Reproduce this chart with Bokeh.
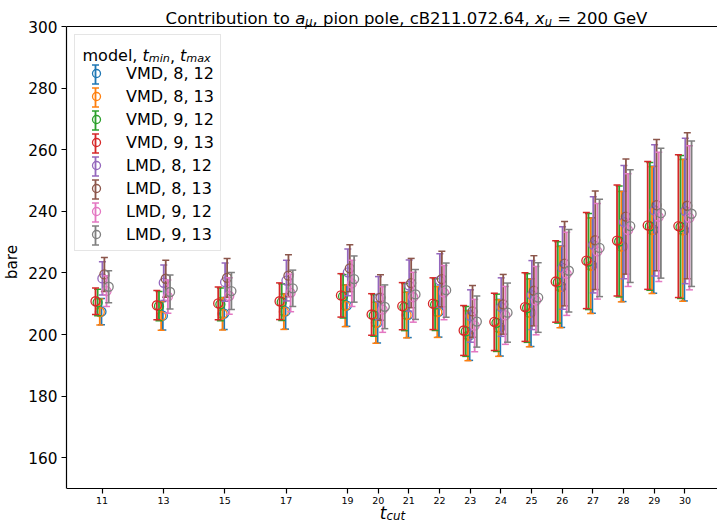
from bokeh.plotting import figure
from bokeh.models import (ColumnDataSource, Label, Legend, LegendItem, Whisker,
                          TeeHead, Span, FixedTicker, Range1d)
from bokeh.embed import file_html
from bokeh.resources import INLINE

FONT = "DejaVu Sans"

# ---------------- data ----------------
t_cut = [11, 13, 15, 17, 19, 20, 21, 22, 23, 24, 25, 26, 27, 28, 29, 30]
yticks = [160, 180, 200, 220, 240, 260, 280, 300]

labels = ["VMD, 8, 12", "VMD, 8, 13", "VMD, 9, 12", "VMD, 9, 13",
          "LMD, 8, 12", "LMD, 8, 13", "LMD, 9, 12", "LMD, 9, 13"]

vmd_8_12 = [207.4, 206.1, 206.8, 207.5, 209.4, 203.9, 206.4, 207.4, 199.7, 202.2, 207.1, 215.5, 222.4, 228.6, 234.0, 233.9]
vmd_8_12_err = [4.25, 4.65, 5.2, 5.75, 6.75, 6.65, 7.4, 8.25, 8.1, 9.2, 11.0, 13.2, 15.5, 17.9, 20.6, 23.0]
vmd_8_13 = [207.3, 206.0, 206.7, 207.4, 209.3, 203.8, 206.3, 207.3, 199.6, 202.1, 207.0, 215.4, 222.3, 228.5, 233.9, 233.8]
vmd_8_13_err = [4.25, 4.65, 5.2, 5.75, 6.75, 6.65, 7.4, 8.25, 8.1, 9.2, 11.0, 13.2, 15.5, 17.9, 20.6, 23.0]
vmd_9_12 = [210.4, 209.2, 209.8, 210.5, 212.4, 206.2, 208.9, 209.7, 201.0, 203.8, 208.6, 216.9, 223.7, 230.2, 235.1, 234.9]
vmd_9_12_err = [4.3, 4.75, 5.3, 5.95, 7.05, 6.75, 7.65, 8.4, 8.1, 9.3, 11.15, 13.2, 15.6, 18.0, 20.75, 23.2]
vmd_9_13 = [210.8, 209.5, 210.1, 210.8, 212.7, 206.5, 209.2, 210.0, 201.3, 204.1, 208.9, 217.2, 224.0, 230.5, 235.4, 235.2]
vmd_9_13_err = [4.3, 4.75, 5.3, 5.95, 7.05, 6.75, 7.65, 8.4, 8.1, 9.3, 11.15, 13.2, 15.6, 18.0, 20.75, 23.2]
lmd_8_12 = [218.2, 216.8, 217.0, 217.5, 220.2, 211.8, 215.9, 217.5, 206.0, 208.9, 212.8, 221.6, 229.1, 236.5, 240.3, 240.1]
lmd_8_12_err = [5.4, 5.8, 6.2, 6.6, 7.6, 7.0, 8.3, 8.7, 8.5, 9.5, 11.2, 13.4, 15.6, 18.4, 21.3, 23.6]
lmd_8_13 = [219.5, 218.1, 218.4, 219.1, 221.5, 212.0, 216.7, 218.0, 207.5, 209.8, 214.2, 223.0, 230.6, 238.3, 242.0, 241.8]
lmd_8_13_err = [5.5, 6.0, 6.3, 6.8, 7.6, 7.4, 8.0, 9.0, 8.4, 9.7, 11.4, 13.7, 16.0, 18.7, 21.3, 23.7]
lmd_9_12 = [214.1, 212.3, 212.5, 213.5, 216.6, 208.1, 212.1, 213.6, 202.9, 206.2, 211.0, 219.7, 227.0, 233.9, 238.2, 237.9]
lmd_9_12_err = [5.0, 5.4, 5.9, 6.1, 7.5, 7.4, 8.1, 8.8, 8.5, 9.4, 11.1, 13.5, 15.5, 18.3, 21.0, 23.4]
lmd_9_13 = [215.5, 213.8, 214.1, 215.0, 218.0, 209.0, 213.0, 214.4, 204.2, 207.1, 212.0, 220.7, 228.1, 235.2, 239.4, 239.2]
lmd_9_13_err = [5.2, 5.5, 6.0, 5.9, 7.5, 7.1, 8.1, 8.8, 8.3, 9.6, 11.3, 13.4, 15.8, 18.3, 21.1, 23.6]

values = [vmd_8_12, vmd_8_13, vmd_9_12, vmd_9_13, lmd_8_12, lmd_8_13, lmd_9_12, lmd_9_13]
errors = [vmd_8_12_err, vmd_8_13_err, vmd_9_12_err, vmd_9_13_err,
          lmd_8_12_err, lmd_8_13_err, lmd_9_12_err, lmd_9_13_err]

# ---------------- style ----------------
colors = ["#1f77b4", "#ff7f0e", "#2ca02c", "#d62728",
          "#9467bd", "#8c564b", "#e377c2", "#7f7f7f"]
offsets = [-0.02, -0.075, -0.145, -0.215, 0.01, 0.075, 0.145, 0.215]

W, H = 717, 523
FL = 65                       # frame left (canvas px)
AX_TOP, AX_BOT = 26, 488      # axes box top / bottom (canvas px)
Y0, Y1 = 150, 300             # axes value range
PPU = (AX_BOT - AX_TOP) / (Y1 - Y0)
# the frame spans the full canvas height so that title / xlabel texts are not clipped
y_start = Y0 - (H - AX_BOT) / PPU
y_end = Y1 + AX_TOP / PPU
BASE = "15.3px"

p = figure(width=W, height=H, x_range=Range1d(9.84, 31.06), y_range=Range1d(y_start, y_end),
           output_backend="svg", toolbar_location=None,
           min_border_left=FL, min_border_right=0, min_border_top=0, min_border_bottom=0)
p.background_fill_color = "white"
p.border_fill_color = "white"
p.outline_line_color = None
p.xgrid.visible = False
p.ygrid.visible = False

p.xaxis.ticker = FixedTicker(ticks=t_cut)
p.xaxis.fixed_location = Y0
p.yaxis.ticker = FixedTicker(ticks=yticks)
p.yaxis.bounds = (Y0, Y1)
for ax in (p.xaxis[0], p.yaxis[0]):
    ax.axis_line_color = "black"
    ax.axis_line_width = 1.2
    ax.major_tick_line_color = "black"
    ax.major_tick_line_width = 1.2
    ax.major_tick_in = 0
    ax.major_tick_out = 5
    ax.minor_tick_line_color = None
    ax.major_label_text_font = FONT
    ax.major_label_text_color = "black"
p.xaxis.major_label_text_font_size = "9.5px"
p.xaxis.major_label_standoff = 3
p.yaxis.major_label_text_font_size = BASE
p.yaxis.major_label_standoff = 4
p.yaxis.axis_label = "bare"
p.yaxis.axis_label_text_font = FONT
p.yaxis.axis_label_text_font_size = BASE
p.yaxis.axis_label_text_font_style = "normal"
p.yaxis.axis_label_text_color = "black"
p.yaxis.axis_label_standoff = 4

# top spine
p.add_layout(Span(location=Y1, dimension="width", line_color="black", line_width=1.2))

legend_items = []
for lab, c, off, vals, errs in zip(labels, colors, offsets, values, errors):
    xs = [t + off for t in t_cut]
    lo = [v - e for v, e in zip(vals, errs)]
    hi = [v + e for v, e in zip(vals, errs)]
    src = ColumnDataSource(dict(x=xs, y=vals, lo=lo, hi=hi))
    p.segment(x0="x", y0="lo", x1="x", y1="hi", source=src, line_color=c, line_width=1.8)
    p.scatter("x", "lo", marker="dash", size=7, line_color=c, line_width=1.5, source=src)
    p.scatter("x", "hi", marker="dash", size=7, line_color=c, line_width=1.5, source=src)
    r = p.scatter("x", "y", marker="circle", size=9, fill_color=None, line_color=c,
                  line_width=1.3, source=src)
    legend_items.append(LegendItem(label=lab, renderers=[r]))

# legend (placed by its bottom-left corner, frame-relative screen px)
LPAD, GW, GH, LSP, LSO, TITLE_H, TSO = 6, 30, 20, 3, 15, 18, 5
LEG_LEFT, LEG_TOP = 73, 35
n_items = len(labels)
leg_h = 2 * LPAD + TITLE_H + TSO + n_items * GH + (n_items - 1) * LSP
legend = Legend(items=legend_items, location=(LEG_LEFT - FL, H - (LEG_TOP + leg_h)),
                padding=LPAD, glyph_width=GW, glyph_height=GH, label_height=GH,
                spacing=LSP, label_standoff=LSO, label_text_font=FONT,
                label_text_font_size="16px", label_text_color="black", title=" ",
                title_text_font_size="15px", title_standoff=TSO,
                border_line_color="#cccccc", border_line_width=1,
                background_fill_color="white", background_fill_alpha=0.0)
p.add_layout(legend)

row0 = LEG_TOP + LPAD + TITLE_H + TSO + GH / 2
gx = LEG_LEFT + LPAD + GW / 2
for i, c in enumerate(colors):
    yc = row0 + i * (GH + LSP)
    s = ColumnDataSource(dict(b=[gx - FL], lo=[H - (yc + 9.5)], hi=[H - (yc - 9.5)]))
    p.add_layout(Whisker(source=s, base="b", lower="lo", upper="hi", dimension="height",
                         base_units="screen", lower_units="screen", upper_units="screen",
                         line_color=c, line_width=1.8,
                         lower_head=TeeHead(size=7, line_color=c, line_width=1.5),
                         upper_head=TeeHead(size=7, line_color=c, line_width=1.5)))

# rich text helpers (DejaVu Sans advance widths / 2048)
ADV = {' ': 651, ',': 651, '.': 651, '=': 1716, 'B': 1405, 'C': 1430, 'D': 1577,
       'G': 1589, 'L': 1141, 'M': 1767, 'V': 1401, 'a': 1255, 'b': 1300, 'c': 1126,
       'd': 1300, 'e': 1260, 'i': 569, 'l': 569, 'm': 1995, 'n': 1298, 'o': 1253,
       'p': 1300, 'r': 842, 't': 803, 'u': 1298, 'x': 1212, 'μ': 1300}


def tw(s, size):
    return sum(ADV.get(ch, 1303) for ch in s) / 2048 * size


def rich(pieces, x0, ybase, center=False):
    total = sum(tw(t, s) for t, s, _, _ in pieces)
    x = x0 - total / 2 if center else x0
    for text, size, italic, dy in pieces:
        lead = len(text) - len(text.lstrip(" "))
        body = text.strip(" ")
        p.add_layout(Label(x=x + tw(" " * lead, size) - FL, y=H - (ybase + dy),
                           x_units="screen", y_units="screen",
                           text=body, text_font=FONT, text_font_size=f"{size}px",
                           text_font_style="italic" if italic else "normal",
                           text_baseline="alphabetic", text_align="left",
                           text_color="black"))
        x += tw(text, size)


F = 16.5
S = 11.5
rich([("Contribution to ", F, False, 0), ("a", F, True, 0), ("μ", S, True, 3.5),
      (", pion pole, cB211.072.64, ", F, False, 0), ("x", F, True, 0), ("u", S, True, 3.5),
      (" = 200 GeV", F, False, 0)], 405, 18, center=True)

rich([("model, ", 16, False, 0), ("t", 16, True, 0), ("min", 11.2, True, 3),
      (", ", 16, False, 0), ("t", 16, True, 0), ("max", 11.2, True, 3)], 81, 55)

rich([("t", 17, True, 0), ("cut", 11.9, True, 3)], 391, 512, center=True)

open("out.html", "w").write(file_html(p, INLINE))
